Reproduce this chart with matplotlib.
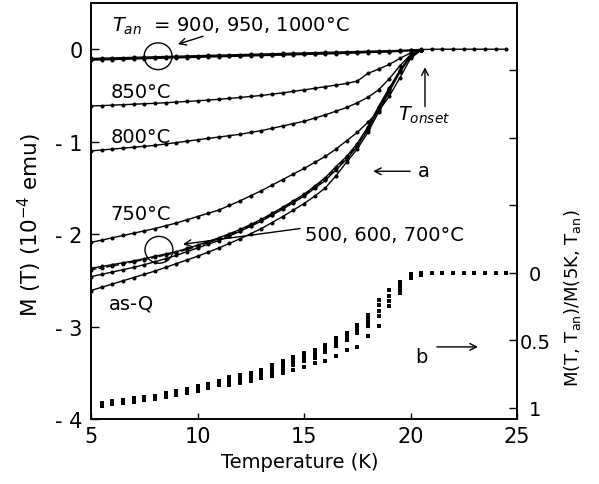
import matplotlib
matplotlib.use("Agg")
import matplotlib.pyplot as plt
from matplotlib.patches import Ellipse

plt.rcParams["font.family"] = "DejaVu Sans"
plt.rcParams["mathtext.fontset"] = "dejavusans"
plt.rcParams["axes.unicode_minus"] = False

# temperature grid of the M(T) curves (K)
temps_a = [5.0, 5.5, 6.0, 6.5, 7.0, 7.5, 8.0, 8.5, 9.0, 9.5, 10.0, 10.5,
           11.0, 11.5, 12.0, 12.5, 13.0, 13.5, 14.0, 14.5, 15.0, 15.5, 16.0,
           16.5, 17.0, 17.5, 18.0, 18.5, 19.0, 19.5, 20.0, 20.5]
temps_tail = [21.0, 21.5, 22.0, 22.5, 23.0, 23.5, 24.0, 24.5]

# M(T) in 1e-4 emu, one list per anneal temperature
m_900 = [-0.110, -0.107, -0.104, -0.101, -0.098, -0.095, -0.092, -0.089,
         -0.086, -0.083, -0.080, -0.077, -0.074, -0.071, -0.068, -0.065,
         -0.062, -0.059, -0.056, -0.053, -0.050, -0.047, -0.044, -0.041,
         -0.038, -0.035, -0.032, -0.029, -0.026, -0.022, -0.014, -0.004]
m_tail = [0.0, 0.0, 0.0, 0.0, 0.0, 0.0, 0.0, 0.0]
m_950 = [-0.100, -0.097, -0.094, -0.091, -0.088, -0.085, -0.082, -0.079,
         -0.076, -0.073, -0.070, -0.067, -0.064, -0.061, -0.058, -0.055,
         -0.052, -0.049, -0.046, -0.043, -0.040, -0.037, -0.034, -0.031,
         -0.028, -0.025, -0.022, -0.019, -0.016, -0.013, -0.008, -0.002]
m_1000 = [-0.118, -0.115, -0.112, -0.109, -0.106, -0.102, -0.099, -0.096,
          -0.093, -0.090, -0.087, -0.084, -0.081, -0.078, -0.075, -0.072,
          -0.069, -0.066, -0.063, -0.060, -0.057, -0.054, -0.051, -0.048,
          -0.044, -0.040, -0.036, -0.032, -0.028, -0.022, -0.013, -0.004]
m_850 = [-0.614, -0.610, -0.605, -0.600, -0.595, -0.590, -0.585, -0.579,
         -0.572, -0.565, -0.558, -0.550, -0.542, -0.532, -0.522, -0.511,
         -0.500, -0.486, -0.472, -0.456, -0.440, -0.423, -0.405, -0.388,
         -0.370, -0.345, -0.262, -0.215, -0.165, -0.100, -0.040, -0.005]
m_800 = [-1.100, -1.090, -1.080, -1.070, -1.060, -1.050, -1.040, -1.025,
         -1.010, -0.995, -0.980, -0.965, -0.950, -0.935, -0.920, -0.900,
         -0.880, -0.856, -0.830, -0.805, -0.780, -0.745, -0.710, -0.670,
         -0.630, -0.580, -0.520, -0.440, -0.320, -0.180, -0.060, -0.008]
m_750 = [-2.090, -2.065, -2.040, -2.015, -1.990, -1.965, -1.940, -1.910,
         -1.880, -1.845, -1.810, -1.775, -1.740, -1.690, -1.640, -1.585,
         -1.530, -1.470, -1.410, -1.350, -1.290, -1.225, -1.160, -1.080,
         -0.990, -0.900, -0.790, -0.670, -0.510, -0.310, -0.100, -0.010]
m_500 = [-2.370, -2.350, -2.330, -2.310, -2.290, -2.265, -2.240, -2.215,
         -2.190, -2.155, -2.120, -2.080, -2.040, -1.995, -1.950, -1.895,
         -1.840, -1.775, -1.710, -1.640, -1.570, -1.480, -1.390, -1.270,
         -1.160, -1.020, -0.840, -0.620, -0.420, -0.230, -0.070, -0.008]
m_600 = [-2.385, -2.365, -2.345, -2.322, -2.300, -2.276, -2.252, -2.226,
         -2.200, -2.166, -2.132, -2.093, -2.054, -2.008, -1.962, -1.907,
         -1.852, -1.788, -1.722, -1.652, -1.582, -1.494, -1.404, -1.290,
         -1.175, -1.035, -0.855, -0.635, -0.430, -0.235, -0.072, -0.008]
m_700 = [-2.460, -2.435, -2.410, -2.385, -2.360, -2.330, -2.300, -2.265,
         -2.230, -2.190, -2.150, -2.110, -2.070, -2.020, -1.970, -1.915,
         -1.860, -1.795, -1.730, -1.660, -1.590, -1.505, -1.420, -1.305,
         -1.190, -1.050, -0.870, -0.650, -0.440, -0.240, -0.070, -0.008]
m_asq = [-2.610, -2.575, -2.540, -2.505, -2.470, -2.435, -2.400, -2.360,
         -2.320, -2.280, -2.240, -2.195, -2.150, -2.100, -2.050, -1.995,
         -1.940, -1.875, -1.810, -1.740, -1.670, -1.590, -1.500, -1.370,
         -1.220, -1.080, -0.900, -0.680, -0.460, -0.250, -0.080, -0.010]

# normalised curves b, M(T)/M(5K) (right axis)
temps_b = [5.5, 6.0, 6.5, 7.0, 7.5, 8.0, 8.5, 9.0, 9.5, 10.0, 10.5, 11.0,
           11.5, 12.0, 12.5, 13.0, 13.5, 14.0, 14.5, 15.0, 15.5, 16.0, 16.5,
           17.0, 17.5, 18.0, 18.5, 19.0, 19.5, 20.0, 20.5, 21.0, 21.5, 22.0,
           22.5, 23.0, 23.5, 24.0, 24.5]
b_1 = [0.963, 0.951, 0.943, 0.931, 0.921, 0.909, 0.891, 0.874, 0.857, 0.842,
       0.823, 0.803, 0.770, 0.755, 0.740, 0.722, 0.685, 0.650, 0.620, 0.596,
       0.570, 0.533, 0.485, 0.447, 0.385, 0.310, 0.200, 0.126, 0.064, 0.007,
       0.0, 0.0, 0.0, 0.0, 0.0, 0.0, 0.0, 0.0, 0.0]
b_2 = [0.971, 0.959, 0.951, 0.939, 0.929, 0.917, 0.901, 0.884, 0.867, 0.852,
       0.833, 0.813, 0.790, 0.775, 0.760, 0.742, 0.712, 0.680, 0.640, 0.616,
       0.590, 0.550, 0.505, 0.463, 0.405, 0.340, 0.240, 0.168, 0.092, 0.018,
       0.005, 0.0, 0.0, 0.0, 0.0, 0.0, 0.0, 0.0, 0.0]
b_3 = [0.979, 0.967, 0.959, 0.947, 0.937, 0.925, 0.911, 0.894, 0.877, 0.862,
       0.843, 0.823, 0.810, 0.795, 0.780, 0.762, 0.738, 0.710, 0.660, 0.636,
       0.610, 0.566, 0.525, 0.480, 0.425, 0.370, 0.280, 0.210, 0.120, 0.030,
       0.010, 0.0, 0.0, 0.0, 0.0, 0.0, 0.0, 0.0, 0.0]
b_4 = [0.987, 0.975, 0.967, 0.955, 0.945, 0.933, 0.921, 0.904, 0.887, 0.872,
       0.853, 0.833, 0.830, 0.815, 0.800, 0.782, 0.765, 0.740, 0.680, 0.656,
       0.630, 0.583, 0.545, 0.496, 0.447, 0.397, 0.323, 0.249, 0.150, 0.040,
       0.015, 0.0, 0.0, 0.0, 0.0, 0.0, 0.0, 0.0, 0.0]
temps_b_low = [14.5, 15.0, 15.5, 16.0, 16.5, 17.0, 17.5, 18.0, 18.5]
b_low = [0.723, 0.694, 0.669, 0.650, 0.615, 0.570, 0.546, 0.470, 0.397]

x_ticks = [5, 10, 15, 20, 25]
x_tick_labels = ["5", "10", "15", "20", "25"]
y_ticks = [-4, -3, -2, -1, 0]
y_tick_labels = ["- 4", "- 3", "- 2", "- 1", "0"]
r_ticks = [-1.5, -1.0, -0.5, 0.0, 0.5, 1.0]
r_tick_labels = ["", "", "", "0", "0.5", "1"]


def draw_curves(ax):
    line = dict(color="black", lw=1.0, marker="o", ms=1.9)
    ax.plot(temps_a + temps_tail, m_900 + m_tail, **line)
    ax.plot(temps_a, m_950, **line)
    ax.plot(temps_a, m_1000, **line)
    ax.plot(temps_a, m_850, **line)
    ax.plot(temps_a, m_800, **line)
    ax.plot(temps_a, m_750, **line)
    ax.plot(temps_a, m_500, **line)
    ax.plot(temps_a, m_600, color="black", lw=1.0, ls=(0, (4, 1.5)),
            marker="o", ms=1.9)
    ax.plot(temps_a, m_700, **line)
    ax.plot(temps_a, m_asq, **line)


def draw_labels(ax):
    arrow = dict(arrowstyle="->", color="black", lw=1.0,
                 shrinkA=0, shrinkB=0, mutation_scale=12)
    fs = 14
    ax.text(5.99, 0.195, r"$T_{an}$  = 900, 950, 1000°C", fontsize=fs)
    ax.add_patch(Ellipse((8.15, -0.076), 1.31, 0.29, fill=False, lw=1.0))
    ax.annotate("", xy=(9.08, 0.054), xytext=(10.26, 0.14), arrowprops=arrow)

    ax.text(5.9, -0.52, "850°C", fontsize=fs)
    ax.text(5.9, -1.0, "800°C", fontsize=fs)
    ax.text(5.9, -1.84, "750°C", fontsize=fs)
    ax.text(15.05, -2.06, "500, 600, 700°C", fontsize=fs)
    ax.add_patch(Ellipse((8.19, -2.17), 1.31, 0.29, fill=False, lw=1.0))
    ax.annotate("", xy=(9.32, -2.11), xytext=(14.81, -1.94), arrowprops=arrow)
    ax.text(5.85, -2.8, "as-Q", fontsize=fs)

    ax.annotate("", xy=(18.24, -1.32), xytext=(19.98, -1.32), arrowprops=arrow)
    ax.text(20.35, -1.376, "a", fontsize=fs)

    ax.annotate("", xy=(20.68, -0.195), xytext=(20.68, -0.62), arrowprops=arrow)
    ax.text(19.4, -0.76, r"$T_{onset}$", fontsize=fs)

    ax.text(20.2, -3.38, "b", fontsize=fs)
    ax.annotate("", xy=(23.17, -3.22), xytext=(21.24, -3.22), arrowprops=arrow)


def main():
    fig = plt.figure(figsize=(5.99, 4.85), dpi=100)
    ax = fig.add_axes([91 / 599, 65 / 485, 426 / 599, 416 / 485])
    ax2 = ax.twinx()

    draw_curves(ax)
    dots = dict(ls="none", marker="s", color="black", ms=2.2, mew=0)
    ax2.plot(temps_b, b_1, **dots)
    ax2.plot(temps_b, b_2, **dots)
    ax2.plot(temps_b, b_3, **dots)
    ax2.plot(temps_b, b_4, **dots)
    ax2.plot(temps_b_low, b_low, **dots)
    draw_labels(ax)

    ax.set_xlim(5, 25)
    ax.set_ylim(-4.0, 0.5)
    ax2.set_ylim(1.083, -2.0)

    ax.set_xticks(x_ticks, x_tick_labels)
    ax.set_yticks(y_ticks, y_tick_labels)
    ax2.set_yticks(r_ticks, r_tick_labels)
    ax.tick_params(axis="x", direction="in", length=4, width=1,
                   labelsize=15, pad=5, top=False)
    ax.tick_params(axis="y", direction="in", length=6, width=1,
                   labelsize=15, pad=6, right=False)
    ax2.tick_params(axis="y", direction="in", length=6, width=1,
                    labelsize=14, pad=13)
    for lab in ax2.get_yticklabels():
        lab.set_horizontalalignment("center")

    for a in (ax, ax2):
        for s in a.spines.values():
            s.set_linewidth(1.2)

    ax.set_xlabel("Temperature (K)", fontsize=14)
    ax.xaxis.set_label_coords(0.49, -0.103)
    ax.xaxis.label.set_verticalalignment("center")
    ax.set_ylabel(r"M (T) (10$^{-4}$ emu)", fontsize=15.5)
    ax.yaxis.set_label_coords(-0.143, 0.469)
    ax.yaxis.label.set_verticalalignment("center")
    ax2.set_ylabel(r"M(T, T$_{\mathrm{an}}$)/M(5K, T$_{\mathrm{an}}$)",
                   fontsize=13)
    ax2.yaxis.set_label_coords(1.131, 0.293)
    ax2.yaxis.label.set_verticalalignment("center")

    fig.savefig("out.png", dpi=100)


if __name__ == "__main__":
    main()
